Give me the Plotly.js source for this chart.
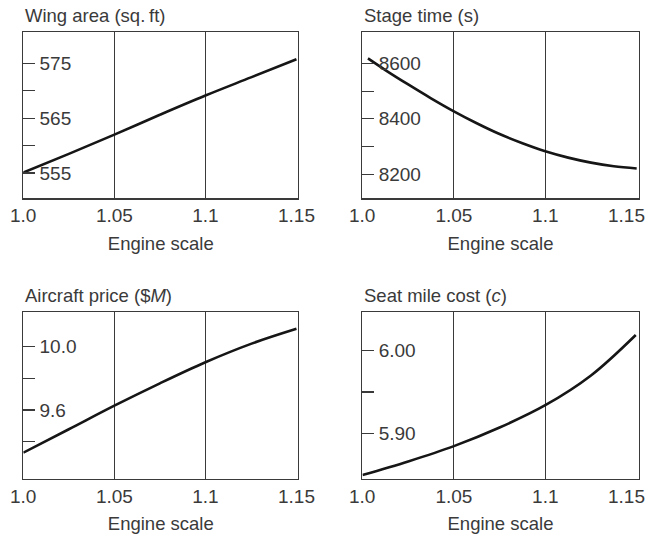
<!DOCTYPE html>
<html>
<head>
<meta charset="utf-8">
<script src="https://cdn.plot.ly/plotly-3.0.1.min.js"></script>
<style>html,body{margin:0;padding:0;background:#fff;}#chart{width:653px;height:536px;}</style>
</head>
<body>
<div id="chart"></div>
<script>
// Data
const engineScale = [1.0, 1.025, 1.05, 1.075, 1.1, 1.125, 1.15];
const wingArea = [555.1, 558.5, 562.0, 565.6, 569.1, 572.4, 575.7];
const stageTimeX = [1.003, 1.0125, 1.025, 1.0375, 1.05, 1.0625, 1.075, 1.0875, 1.1, 1.1125, 1.125, 1.1375, 1.15];
const stageTime = [8618, 8576, 8524, 8474, 8427, 8384, 8345, 8312, 8283, 8260, 8242, 8229, 8221];
const aircraftPrice = [9.33, 9.478, 9.627, 9.768, 9.901, 10.017, 10.112];
const seatMileX = [1.0, 1.025, 1.05, 1.075, 1.1, 1.125, 1.1495];
const seatMileCost = [5.8495, 5.866, 5.8845, 5.907, 5.934, 5.970, 6.019];

const xTickVals = [1.0, 1.05, 1.1, 1.15];
const xTickText = ['1.0', '1.05', '1.1', '1.15'];
const gridVals = [1.05, 1.1];

const wingTicks = [555, 560, 565, 570, 575];
const wingTickText = ['555', '', '565', '', '575'];
const stageTicks = [8200, 8300, 8400, 8500, 8600];
const stageTickText = ['8200', '', '8400', '', '8600'];
const priceTicks = [9.4, 9.6, 9.8, 10.0];
const priceTickText = ['', '9.6', '', '10.0'];
const seatTicks = [5.90, 5.95, 6.00];
const seatTickText = ['5.90', '', '6.00'];

const panelTitles = ['Wing area (sq.\u2009ft)', 'Stage time (s)', 'Aircraft price ($<i>M</i>)', 'Seat mile cost (<i>c</i>)'];
const xTitle = 'Engine scale';

const FONT = 'Liberation Sans, Arial, Helvetica, sans-serif';
const TEXT = '#3a3a3a';
const LINE = '#3a3a3a';

function trace(x, y, n) {
  return {x: x, y: y, type: 'scatter', mode: 'lines', xaxis: 'x' + (n === 1 ? '' : n), yaxis: 'y' + (n === 1 ? '' : n),
    line: {color: '#161616', width: 2.6, shape: 'spline', smoothing: 1}, hoverinfo: 'skip', showlegend: false, cliponaxis: false};
}

// axis tick labels for the interior ticks; the edge labels are placed below as annotations
function xAxis(dom, anchor, nLabels, match) {
  const ax = {domain: dom, anchor: anchor, range: [1.0, 1.151], tickmode: 'array',
    tickvals: xTickVals.slice(1, nLabels), ticktext: xTickText.slice(1, nLabels),
    ticks: '', showgrid: false, zeroline: false, showline: true, mirror: true, linecolor: LINE, linewidth: 1.2,
    tickfont: {family: FONT, size: 19, color: TEXT}, ticklabelstandoff: 0, ticklabeloverflow: 'allow',
    minor: {tickmode: 'array', tickvals: gridVals, showgrid: true, gridcolor: LINE, gridwidth: 1.1, ticks: ''},
    title: {text: xTitle, font: {family: FONT, size: 18.5, color: TEXT}, standoff: 11}};
  if (match) ax.matches = match;
  return ax;
}

function yAxis(dom, anchor, range, vals, text) {
  return {domain: dom, anchor: anchor, range: range, tickmode: 'array', tickvals: vals, ticktext: text,
    ticks: 'inside', ticklen: 12, tickwidth: 1.2, tickcolor: LINE, ticklabelposition: 'inside', ticklabelstandoff: 5,
    showgrid: false, zeroline: false, showline: true, mirror: true, linecolor: LINE, linewidth: 1.2,
    tickfont: {family: FONT, size: 19, color: TEXT}};
}

const xL = [0.0357, 0.4568], xR = [0.5551, 0.9778];
const yT = [0.6299, 0.9407], yB = [0.1063, 0.4170];

const data = [
  trace(engineScale, wingArea, 1),
  trace(stageTimeX, stageTime, 2),
  trace(engineScale, aircraftPrice, 3),
  trace(seatMileX, seatMileCost, 4)
];

const titlePos = [[xL[0], 1 - 15 / 536], [xR[0], 1 - 15 / 536], [xL[0], 1 - 295 / 536], [xR[0], 1 - 295 / 536]];
const annotations = panelTitles.map((t, i) => ({text: t, xref: 'paper', yref: 'paper', x: titlePos[i][0], y: titlePos[i][1],
  xanchor: 'left', yanchor: 'middle', showarrow: false, font: {family: FONT, size: 18.5, color: TEXT}}));

// edge tick labels (1.0 everywhere, 1.15 on the right-hand panels, nudged inside the page)
function edgeLabel(i, n, shift) {
  const s = n === 1 ? '' : String(n);
  return {text: xTickText[i], xref: 'x' + s, yref: 'y' + s + ' domain', x: xTickVals[i], y: 0,
    xanchor: 'center', yanchor: 'middle', xshift: shift, yshift: -17, showarrow: false,
    font: {family: FONT, size: 19, color: TEXT}};
}
[1, 2, 3, 4].forEach(n => annotations.push(edgeLabel(0, n, 0)));
[2, 4].forEach(n => annotations.push(edgeLabel(3, n, -10)));

const layout = {
  width: 653, height: 536, margin: {l: 0, r: 0, t: 0, b: 0}, paper_bgcolor: '#fff', plot_bgcolor: '#fff',
  showlegend: false,
  xaxis: xAxis(xL, 'y', 4), yaxis: yAxis(yT, 'x', [550.4, 580.7], wingTicks, wingTickText),
  xaxis2: xAxis(xR, 'y2', 3, 'x'), yaxis2: yAxis(yT, 'x2', [8113, 8714], stageTicks, stageTickText),
  xaxis3: xAxis(xL, 'y3', 4, 'x'), yaxis3: yAxis(yB, 'x3', [9.164, 10.215], priceTicks, priceTickText),
  xaxis4: xAxis(xR, 'y4', 3, 'x'), yaxis4: yAxis(yB, 'x4', [5.8447, 6.0462], seatTicks, seatTickText),
  annotations: annotations
};

Plotly.newPlot('chart', data, layout, {staticPlot: true, displayModeBar: false});
</script>
</body>
</html>
